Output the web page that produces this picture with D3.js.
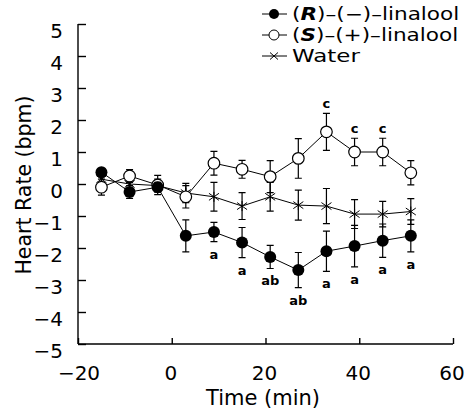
<!DOCTYPE html>
<html>
<head>
<meta charset="utf-8">
<script src="https://cdn.jsdelivr.net/npm/d3@7"></script>
<style>
  body { margin: 0; background: #fff; }
  svg { display: block; font-family: "DejaVu Sans", sans-serif; }
</style>
</head>
<body>
<svg width="468" height="410"></svg>
<script>
let times = [-15, -9, -3, 3, 9, 15, 21, 27, 33, 39, 45, 51];

let rMean = [0.37, -0.25, -0.1, -1.62, -1.5, -1.83, -2.28, -2.69, -2.1, -1.94, -1.77, -1.62];
let rErr  = [0.12, 0.2, 0.15, 0.5, 0.3, 0.47, 0.36, 0.55, 0.63, 0.65, 0.52, 0.5];
let rTags = ["", "", "", "", "a", "a", "ab", "ab", "a", "a", "a", "a"];

let sMean = [-0.1, 0.25, -0.03, -0.4, 0.65, 0.46, 0.23, 0.8, 1.63, 1.0, 1.0, 0.35];
let sErr  = [0.25, 0.2, 0.3, 0.35, 0.37, 0.28, 0.5, 0.62, 0.58, 0.43, 0.43, 0.38];
let sTags = ["", "", "", "", "", "", "", "", "c", "c", "c", ""];

let wMean = [0.15, 0.0, -0.05, -0.28, -0.4, -0.69, -0.4, -0.66, -0.69, -0.94, -0.94, -0.86];
let wErr  = [0.2, 0.2, 0.2, 0.3, 0.45, 0.42, 0.45, 0.47, 0.55, 0.45, 0.4, 0.4];

let xTicks = [-20, 0, 20, 40, 60];
let yTicks = [-5, -4, -3, -2, -1, 0, 1, 2, 3, 4, 5];

let svg = d3.select("svg");

let x = d3.scaleLinear().domain([-20, 60]).range([78, 453]);
let y = d3.scaleLinear().domain([-5, 5]).range([344, 24]);

let fmt = d3.format("");

// axes, ticks pointing inward
let xAxis = d3.axisTop(x).tickValues(xTicks).tickSize(6).tickFormat("");
let yAxis = d3.axisRight(y).tickValues(yTicks).tickSize(8).tickFormat("");

svg.append("g").attr("transform", "translate(0," + y(-5) + ")").call(xAxis)
  .call(g => g.select(".domain").attr("d", "M" + x(-20) + ",0H" + x(60)));
svg.append("g").attr("transform", "translate(" + x(-20) + ",0)").call(yAxis)
  .call(g => g.select(".domain").attr("d", "M0," + y(5) + "V" + y(-5)));
svg.selectAll(".domain, .tick line").attr("stroke", "#000").attr("stroke-width", 1.4);

svg.append("g").selectAll("text").data(xTicks).join("text")
  .attr("x", d => x(d) + (d < 0 ? 1 : -1))
  .attr("y", 380)
  .attr("text-anchor", "middle")
  .attr("font-size", 20)
  .text(d => fmt(d));

svg.append("g").selectAll("text").data(yTicks).join("text")
  .attr("x", 63)
  .attr("y", d => y(d) + 14)
  .attr("text-anchor", "end")
  .attr("font-size", 20)
  .text(d => fmt(d));

svg.append("text")
  .attr("x", 263).attr("y", 405)
  .attr("text-anchor", "middle").attr("font-size", 21)
  .text("Time (min)");

svg.append("text")
  .attr("transform", "translate(31,185) rotate(-90)")
  .attr("text-anchor", "middle").attr("font-size", 20.5)
  .text("Heart Rate (bpm)");

function rows(mean, err) {
  return times.map((t, i) => ({t: t, m: mean[i], e: err[i]}));
}

let line = d3.line().x(d => x(d.t)).y(d => y(d.m));

function errBars(data) {
  let g = svg.append("g").attr("stroke", "#000").attr("stroke-width", 1.2);
  g.selectAll("path").data(data).join("path")
    .attr("fill", "none")
    .attr("d", d => {
      let cx = x(d.t), y0 = y(d.m - d.e), y1 = y(d.m + d.e);
      return "M" + cx + "," + y0 + "V" + y1 +
        "M" + (cx - 3.5) + "," + y0 + "H" + (cx + 3.5) +
        "M" + (cx - 3.5) + "," + y1 + "H" + (cx + 3.5);
    });
}

function starPath(cx, cy, r) {
  return "M" + (cx - r) + "," + (cy - r * 0.7) + "L" + (cx + r) + "," + (cy + r * 0.7) +
    "M" + (cx - r) + "," + (cy + r * 0.7) + "L" + (cx + r) + "," + (cy - r * 0.7) +
    "M" + cx + "," + (cy - r) + "V" + (cy + r);
}

let rData = rows(rMean, rErr), sData = rows(sMean, sErr), wData = rows(wMean, wErr);

// water
errBars(wData);
svg.append("path").datum(wData).attr("d", line).attr("fill", "none").attr("stroke", "#000").attr("stroke-width", 1);
svg.append("g").selectAll("path").data(wData).join("path")
  .attr("d", d => starPath(x(d.t), y(d.m), 5))
  .attr("stroke", "#000").attr("stroke-width", 1).attr("fill", "none");

// S
errBars(sData);
svg.append("path").datum(sData).attr("d", line).attr("fill", "none").attr("stroke", "#000").attr("stroke-width", 1);
svg.append("g").selectAll("circle").data(sData).join("circle")
  .attr("cx", d => x(d.t)).attr("cy", d => y(d.m)).attr("r", 5.8)
  .attr("fill", "#fff").attr("stroke", "#000").attr("stroke-width", 1.2);

// R
errBars(rData);
svg.append("path").datum(rData).attr("d", line).attr("fill", "none").attr("stroke", "#000").attr("stroke-width", 1);
svg.append("g").selectAll("circle").data(rData).join("circle")
  .attr("cx", d => x(d.t)).attr("cy", d => y(d.m)).attr("r", 6)
  .attr("fill", "#000");

// significance letters
svg.append("g").selectAll("text").data(rData.map((d, i) => ({d: d, s: rTags[i]})).filter(o => o.s))
  .join("text")
  .attr("x", o => x(o.d.t)).attr("y", o => y(o.d.m - o.d.e) + 17)
  .attr("text-anchor", "middle").attr("font-size", 13).attr("font-weight", "bold")
  .text(o => o.s);

svg.append("g").selectAll("text").data(sData.map((d, i) => ({d: d, s: sTags[i]})).filter(o => o.s))
  .join("text")
  .attr("x", o => x(o.d.t)).attr("y", o => y(o.d.m + o.d.e) - 5)
  .attr("text-anchor", "middle").attr("font-size", 13).attr("font-weight", "bold")
  .text(o => o.s);

// legend
let legend = [
  {key: "R", sign: "\u2212", type: "filled"},
  {key: "S", sign: "+", type: "open"},
  {key: null, label: "Water", type: "star"}
];
let lg = svg.append("g");
legend.forEach((l, i) => {
  let cy = 14 + i * 21;
  lg.append("path").attr("d", "M262," + cy + "H287").attr("stroke", "#000").attr("stroke-width", 1);
  if (l.type === "filled") lg.append("circle").attr("cx", 274).attr("cy", cy).attr("r", 5).attr("fill", "#000");
  if (l.type === "open") lg.append("circle").attr("cx", 274).attr("cy", cy).attr("r", 5).attr("fill", "#fff").attr("stroke", "#000");
  if (l.type === "star") lg.append("path").attr("d", "M270," + (cy - 3.5) + "L278," + (cy + 3.5) + "M270," + (cy + 3.5) + "L278," + (cy - 3.5)).attr("stroke", "#000");
  let t = lg.append("text")
    .attr("transform", "translate(292," + (cy + 6) + ") scale(" + (l.key ? 1.27 : 1.35) + ",1)")
    .attr("font-size", 17);
  if (l.key) {
    t.append("tspan").text("(");
    t.append("tspan").attr("font-style", "italic").attr("font-weight", "bold").text(l.key);
    t.append("tspan").text(")\u2013(" + l.sign + ")\u2013linalool");
  } else {
    t.text(l.label);
  }
});
</script>
</body>
</html>
